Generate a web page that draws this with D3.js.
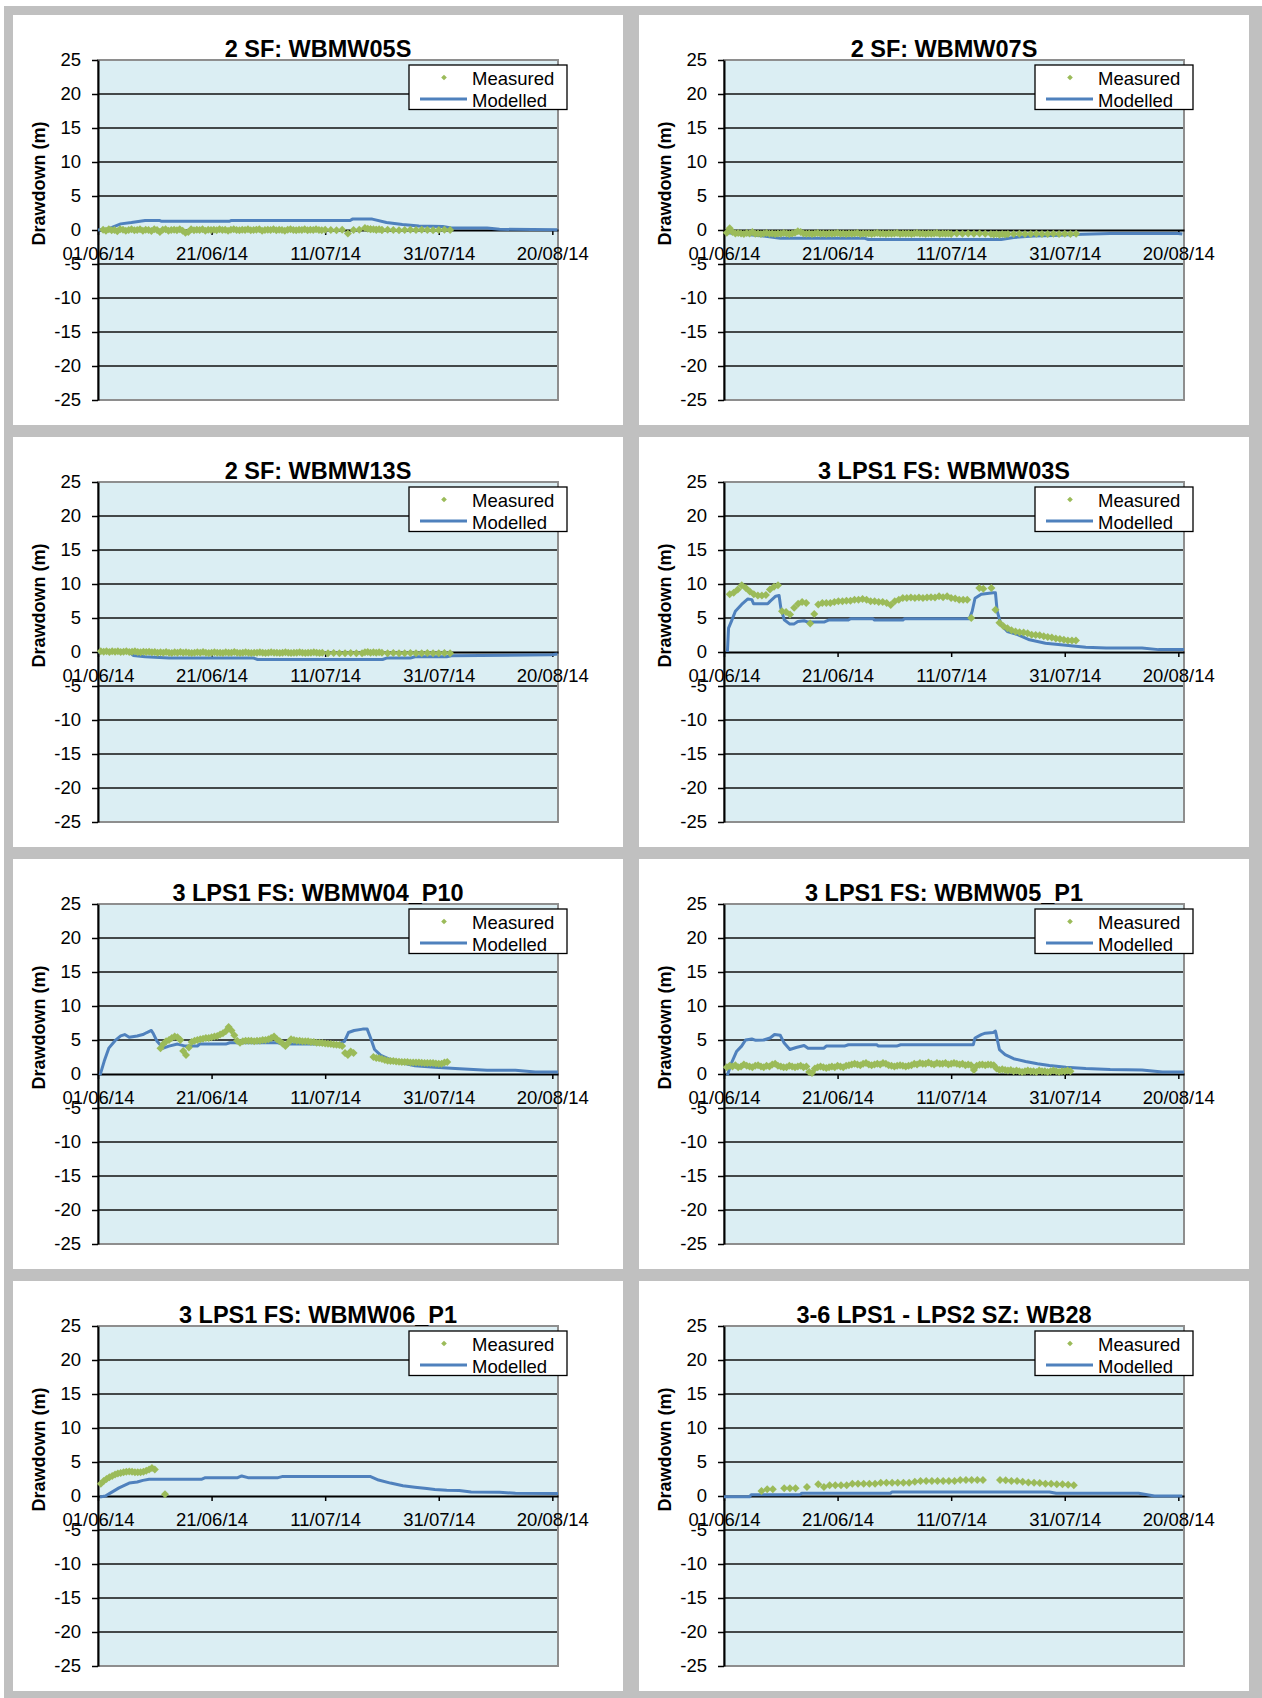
<!DOCTYPE html>
<html><head><meta charset="utf-8">
<script src="https://cdn.jsdelivr.net/npm/d3@7"></script>
<style>
body{margin:0;background:#fff}
svg{display:block}
text{font-family:"Liberation Sans",Arial,sans-serif;fill:#000}
</style>
</head><body>
<svg id="c" width="1262" height="1698"></svg>
<script>
// ---------------- DATA ----------------
const panelTitles = ["2 SF: WBMW05S","2 SF: WBMW07S","2 SF: WBMW13S","3 LPS1 FS: WBMW03S",
  "3 LPS1 FS: WBMW04_P10","3 LPS1 FS: WBMW05_P1","3 LPS1 FS: WBMW06_P1","3-6 LPS1 - LPS2 SZ: WB28"];
const xTickLabels = ["01/06/14","21/06/14","11/07/14","31/07/14","20/08/14"];
const xDomainLabels = ["01/06/14","21/08/14"];
const yTicks = [25,20,15,10,5,0,-5,-10,-15,-20,-25];
const yTitle = "Drawdown (m)";
const seriesNames = ["Measured","Modelled"];

// Modelled: [days since 01/06/14, drawdown m]
const modelledWBMW05S = [[0,0],[1.6,0.1],[4,0.9],[5.9,1.1],[8.3,1.4],[10.8,1.4],[11.1,1.3],[23.2,1.3],[23.5,1.4],[44.4,1.4],[44.8,1.6],[48.3,1.6],[50.8,1.1],[53.6,0.8],[56.5,0.6],[60.7,0.5],[62.2,0.3],[68.5,0.3],[70.7,0.1],[80.9,0.05]];
const modelledWBMW07S = [[0.6,-0.4],[3,-0.6],[7,-0.9],[9.9,-1.2],[24.7,-1.2],[25.4,-1.4],[48.8,-1.4],[51,-1.1],[54.5,-0.9],[58,-0.8],[61.6,-0.65],[68,-0.5],[80,-0.5],[80.7,-0.6]];
const modelledWBMW13S = [[0,0],[5.5,0],[6.2,-0.5],[8.3,-0.7],[12.5,-0.9],[27.4,-0.9],[28.1,-1.1],[50.1,-1.1],[50.8,-0.9],[55,-0.9],[55.8,-0.7],[61.4,-0.7],[62.2,-0.55],[79.9,-0.4],[80.9,-0.3]];
const modelledWBMW03S = [[0.6,0],[0.8,3.5],[1.3,4.5],[2,6.0],[3.1,7.0],[4.2,7.8],[4.9,7.7],[5.2,7.1],[7.7,7.1],[8.1,7.45],[9.1,8.2],[9.7,8.3],[10,6.5],[10.6,4.75],[11.6,4.1],[12.3,4.1],[13,4.5],[14.1,4.6],[14.8,4.4],[17.6,4.4],[18.4,4.7],[21.9,4.7],[22.3,4.9],[26.2,4.9],[26.5,4.7],[31.5,4.7],[31.8,4.9],[43.2,4.9],[43.7,6.0],[44.2,7.9],[45.3,8.5],[47.4,8.7],[47.8,8.7],[48.1,6.0],[48.8,4.0],[49.9,3.0],[51.7,2.55],[53.8,1.8],[56.6,1.3],[60.2,1.0],[63.7,0.7],[67.3,0.6],[73.6,0.6],[76.5,0.35],[81,0.35]];
const modelledWBMW04P10 = [[0.35,-0.2],[1.1,1.9],[1.9,3.8],[3.0,4.9],[4.0,5.6],[4.7,5.8],[5.5,5.4],[6.9,5.6],[7.9,5.8],[8.6,6.1],[9.4,6.4],[9.7,6.0],[10.4,4.8],[11.5,3.8],[12.5,4.1],[14,4.4],[15.4,4.1],[17.5,4.1],[17.9,4.4],[22.5,4.4],[23.2,4.6],[31.7,4.6],[32.4,4.4],[42.3,4.4],[43.4,4.8],[44.1,6.1],[45.1,6.4],[46.6,6.6],[47.4,6.6],[48,5.3],[48.7,3.6],[49.8,2.75],[51.5,2.1],[53.7,1.6],[55.8,1.2],[59.3,1.0],[62.9,0.8],[68.5,0.55],[73.5,0.55],[77,0.3],[81,0.3]];
const modelledWBMW05P1 = [[0.6,-0.2],[1.2,1.4],[2.2,3.3],[3.1,4.1],[3.8,5.0],[4.9,5.15],[5.6,4.95],[7,5.0],[8.1,5.3],[8.9,5.8],[9.9,5.7],[10.6,4.55],[11.6,3.6],[12.7,3.9],[14.1,4.2],[14.8,3.8],[17.6,3.8],[18,4.1],[21.2,4.1],[21.9,4.3],[26.9,4.3],[27.2,4.1],[30.4,4.1],[31.1,4.3],[43.9,4.3],[44.2,5.3],[45.3,5.8],[46,6.0],[47.4,6.1],[47.8,6.3],[48.5,3.6],[49.5,2.85],[51,2.25],[53.1,1.85],[55.2,1.5],[57.3,1.25],[60.2,1.0],[63.7,0.8],[68,0.65],[73.6,0.6],[77.2,0.3],[81,0.3]];
const modelledWBMW06P1 = [[0.35,-0.15],[1.3,0],[2.3,0.5],[3.7,1.2],[5.5,1.9],[6.9,2.05],[7.9,2.3],[9.0,2.45],[18.2,2.45],[18.9,2.7],[24.6,2.7],[25.3,2.95],[26.4,2.7],[31.7,2.7],[32.4,2.85],[48,2.85],[49.4,2.35],[51.5,1.9],[53.7,1.5],[55.8,1.3],[57.9,1.1],[59.3,0.95],[61.4,0.85],[63.6,0.8],[65.7,0.6],[70.7,0.55],[73.5,0.4],[81,0.35]];
const modelledWB28 = [[0,-0.1],[4.5,-0.1],[4.8,0.2],[13.4,0.2],[13.7,0.4],[29.3,0.4],[29.6,0.6],[57.3,0.6],[58.5,0.4],[73,0.4],[75.8,0],[80.7,0]];

// Measured: segments of readings {t0: first day, dt: interval in days, v: values (null = no reading)}
const measuredWBMW05S = [
  {t0:0.9, dt:0.5, v:[0.05,-0.1,0.1,-0.05,0.0,-0.2,0.1,0.05,-0.1,0.0,
    0.1,-0.05,0.0,0.1,-0.1,0.05,0.0,-0.15,0.1,0.0,
    -0.3,0.05,0.1,-0.1,0.0,0.05,-0.05,0.1,-0.1,-0.4,
    -0.3,0.1,-0.05,0.05,0.0,0.1,-0.1,0.05,0.0,0.05,
    -0.05,0.1,0.0,0.05,-0.1,0.05,0.1,0.0,-0.05,0.05,
    0.0,0.1,-0.05,0.0,0.05,0.1,-0.1,0.0,0.05,0.0,
    0.1,-0.05,0.05,0.0,-0.1,0.05,0.1,0.0,-0.05,0.05,
    0.0,0.1,-0.05,0.05,0.0,0.1,0.0,-0.05]},
  {t0:40, dt:1, v:[0.05,0.0,-0.05,0.05,-0.5,0.0,0.05,0.3,0.1,0.05,0.0,0.05,0.0,-0.05,0.0,0.05,0.0,0.05,0.0,-0.05,0.0,0.05,0.0]},
  {t0:47.5, dt:0.5, v:[0.2,0.1,0.1,0.05,0.1,0.0]}
];
const measuredWBMW07S = [
  {t0:0.5, dt:0.5, v:[-0.4,0.25,-0.3,-0.5,-0.45,-0.5,-0.6,-0.45,-0.5,-0.3,
    -0.55,-0.5,-0.6,-0.5,-0.45,-0.55,-0.5,-0.6,-0.5,-0.55,
    -0.45,-0.5,-0.6,-0.5,-0.4,-0.2,-0.3,-0.5,-0.55,-0.5,
    -0.6,-0.5,-0.45,-0.55,-0.5,-0.6,-0.5,-0.55,-0.5,-0.45,
    -0.55,-0.5,-0.6,-0.5,-0.55,-0.5,-0.45,-0.6,-0.5,-0.55,
    -0.5,-0.6,-0.5,-0.45,-0.55,-0.5,-0.6,-0.5,-0.55,-0.5,
    -0.45,-0.6,-0.5,-0.55,-0.5,-0.6,-0.5,-0.45,-0.55,-0.5,
    -0.6,-0.5,-0.55,-0.5,-0.45,-0.6,-0.5,-0.55,-0.5,-0.6]},
  {t0:41, dt:1, v:[-0.5,-0.55,-0.5,-0.55,-0.5,-0.55]},
  {t0:47, dt:0.5, v:[-0.6,-0.65,-0.6,-0.7,-0.6,-0.65,-0.6]},
  {t0:51, dt:1, v:[-0.6,-0.55,-0.6,-0.6,-0.55,-0.6,-0.6,-0.55,-0.6,-0.55,-0.6,-0.55]}
];
const measuredWBMW13S = [
  {t0:0.5, dt:0.5, v:[0.1,0.05,0.1,0.0,0.1,0.05,0.1,0.0,0.05,0.1,
    0.0,0.05,0.1,0.0,-0.05,0.05,0.0,0.05,-0.05,0.0,
    -0.1,-0.05,-0.1,0.0,-0.1,-0.15,-0.05,-0.1,0.0,-0.1,
    -0.05,-0.1,-0.15,-0.1,-0.05,-0.1,0.0,-0.1,-0.15,-0.1,
    -0.05,-0.1,-0.1,-0.15,-0.05,-0.1,-0.1,0.0,-0.1,-0.15,
    -0.1,-0.05,-0.1,-0.15,-0.1,-0.1,-0.05,-0.1,-0.15,-0.1,
    -0.05,-0.1,-0.1,-0.15,-0.1,-0.05,-0.1,-0.15,-0.1,-0.1,
    -0.05,-0.1,-0.15,-0.1,-0.1,-0.05,-0.1,-0.15,-0.1]},
  {t0:40.5, dt:1, v:[-0.2,-0.15,-0.2,-0.2,-0.15,-0.2,-0.2]},
  {t0:47, dt:0.5, v:[-0.05,0.0,-0.1,-0.05,-0.1,-0.05,-0.1]},
  {t0:51, dt:1, v:[-0.2,-0.15,-0.2,-0.2,-0.15,-0.2,-0.2,-0.15,-0.2,-0.2,-0.15,-0.2]}
];
const measuredWBMW03S = [
  {t0:1.0, dt:0.709, v:[8.5,8.7,9.2,9.8,9.4,8.9,8.5,8.3,8.3,8.4,9.2,9.6,9.8,6.0,5.9,5.5,6.5,7.1,7.35,7.2,
    4.2,5.6,7.0,7.2,7.2,7.2,7.35,7.45,7.45,7.55,7.55,7.7,7.7,7.8,7.7,7.45,7.45,7.35,7.35,7.2,
    6.9,7.45,7.7,7.95,7.95,8.0,7.95,8.0,7.95,8.0,8.05,8.0,8.2,8.05,8.2,7.95,7.85,7.7,7.7,7.7,
    5.0,null,9.4,9.3,null,9.4,6.2,4.3,3.8,3.5,3.2,3.0,2.9,2.85,2.75,2.55,2.5,2.45,2.3,2.2,
    2.15,2.0,1.9,1.8,1.7,1.7,1.7]}
];
const measuredWBMW04P10 = [
  {t0:11, dt:0.5, v:[3.8,4.4,4.8,5.0,5.3,5.5,5.4,5.0,3.4,2.8,3.9,4.7,4.9,5.0,5.1,5.2,5.3,5.3,5.4,5.5,
    5.6,5.8,6.0,6.3,6.9,6.4,5.7,4.9,4.6,4.8,4.9,4.9,4.9,4.8,4.9,4.9,5.0,5.0,5.1,5.3,
    5.5,5.1,4.8,4.5,4.1,4.6,5.1,5.0,4.9,4.9,4.8,4.8,4.8,4.7,4.7,4.6,4.6,4.55,4.5,4.45,
    4.4,4.35,4.3,4.25,4.1,3.1,2.8,3.3,3.1]},
  {t0:48.5, dt:0.5, v:[2.5,2.35,2.3,2.2,2.05,1.95,1.9,1.9,1.85,1.8,1.75,1.75,1.75,1.7,1.7,1.7,1.7,1.65,1.6,1.6,1.6,1.6,1.55,1.5,1.5,1.7,1.75]}
];
const measuredWBMW05P1 = [
  {t0:0.5, dt:0.5, v:[1.0,1.2,1.1,1.3,1.0,1.1,1.4,1.2,1.1,1.0,1.2,1.3,1.1,1.0,1.2,1.1,1.4,1.5,1.2,1.1,1.0,1.0,1.2,1.1,1.0,1.1,1.2,1.0,1.1,
    0.3,0.15,
    0.8,1.0,1.1,1.0,0.9,1.0,1.1,1.0,1.2,1.1,1.0,1.2,
    1.3,1.4,1.5,1.4,1.3,1.5,1.6,1.4,1.3,1.4,1.5,1.4,1.6,1.5,1.3,
    1.2,1.1,1.2,1.3,1.2,1.1,1.2,1.3,
    1.5,1.4,1.6,1.5,1.5,1.7,1.5,1.4,1.6,1.5,1.5,1.6,1.4,1.5,1.6,1.5,1.4,1.5,1.3,1.4,1.3,
    0.6,
    1.2,1.35,1.4,1.3,1.4,1.35,1.3,
    0.8,0.6,0.7,0.6,0.5,0.6,
    0.4,0.5,0.4,0.3,0.4,0.5,0.4,0.4,0.3,0.5,0.4,0.4,0.3,0.4,0.5,0.4,0.3,0.4,0.4,0.5,0.4]}
];
const measuredWBMW06P1 = [
  {t0:0.5, dt:0.5, v:[1.8,2.2,2.5,2.75,2.95,3.15,3.3,3.4,3.5,3.55,3.6,3.55,3.5,3.5,3.5,3.55,3.7,3.9,4.1,3.9]},
  {t0:11.8, dt:1, v:[0.25]}
];
const measuredWB28 = [
  {t0:6.6, dt:1, v:[0.74,0.98,0.98,null,1.13,1.13,1.13,null,1.32,null,1.72,1.32,1.57,1.57,1.57,1.57,1.81,1.81,1.81,1.81,
    1.81,1.96,1.96,1.96,1.96,1.96,1.96,2.1,2.2,2.2,2.2,2.2,2.2,2.2,2.2,2.35,2.35,2.35,2.35,2.35,
    null,null,2.35,2.3,2.2,2.2,2.1,2.0,1.96,1.9,1.81,1.81,1.72,1.72,1.67,1.57]}
];

const modelledSeries = [modelledWBMW05S,modelledWBMW07S,modelledWBMW13S,modelledWBMW03S,modelledWBMW04P10,modelledWBMW05P1,modelledWBMW06P1,modelledWB28];
const measuredSeries = [measuredWBMW05S,measuredWBMW07S,measuredWBMW13S,measuredWBMW03S,measuredWBMW04P10,measuredWBMW05P1,measuredWBMW06P1,measuredWB28];

// ---------------- DRAWING ----------------
const colMeasured = "#9bbb59", colModelled = "#4f81bd";
const svg = d3.select("#c");
svg.append("rect").attr("x",4).attr("y",6).attr("width",1258).attr("height",1692).attr("fill","#c0c0c0");

const colX = [13,639], rowY = [15,437,859,1281], PW = 610, PH = 410;
const M = {l:85, t:45, w:460, h:340};
const parse = d3.timeParse("%d/%m/%y");
const tStart = parse(xDomainLabels[0]), tEndD = parse(xDomainLabels[1]);
const x = d3.scaleTime().domain([tStart,tEndD]).range([0,M.w]);
const y = d3.scaleLinear().domain([d3.min(yTicks),d3.max(yTicks)]).range([M.h,0]);
const dayDate = d => new Date(tStart.getTime() + d*86400000);
const tickDates = xTickLabels.map(parse);
const fmt = d3.timeFormat("%d/%m/%y");

const line = d3.line().x(d=>x(dayDate(d[0]))).y(d=>y(d[1]));
const diamond = d3.symbol().type(d3.symbolSquare).size(32);
const diamondSmall = d3.symbol().type(d3.symbolSquare).size(16);

panelTitles.forEach((title,i)=>{
  const g = svg.append("g").attr("transform",`translate(${colX[i%2]},${rowY[Math.floor(i/2)]})`);
  g.append("rect").attr("width",PW).attr("height",PH).attr("fill","#fff");
  const p = g.append("g").attr("transform",`translate(${M.l},${M.t})`);
  p.append("rect").attr("width",M.w).attr("height",M.h).attr("fill","#dbeef3");
  // gridlines
  p.selectAll("line.grid").data(yTicks.filter(v=>v<d3.max(yTicks)&&v>d3.min(yTicks)&&v!==0)).join("line")
    .attr("class","grid").attr("x1",0).attr("x2",M.w).attr("y1",d=>y(d)).attr("y2",d=>y(d))
    .attr("stroke","#111").attr("stroke-width",1.6);
  // border
  p.append("rect").attr("width",M.w).attr("height",M.h).attr("fill","none").attr("stroke","#8e8e8e").attr("stroke-width",2);
  // x axis at 0
  const xa = p.append("g").attr("transform",`translate(0,${y(0)})`)
    .call(d3.axisBottom(x).tickValues(tickDates).tickFormat(fmt).tickSize(5).tickSizeOuter(0).tickPadding(12));
  xa.select(".domain").attr("stroke","#000").attr("stroke-width",2);
  xa.selectAll(".tick line").attr("stroke","#000").attr("stroke-width",1.5);
  xa.selectAll("text").style("font-size","18.5px").attr("fill","#000");
  // y axis
  const ya = p.append("g")
    .call(d3.axisLeft(y).tickValues(yTicks).tickFormat(d=>String(d)).tickSize(6).tickSizeOuter(0).tickPadding(11));
  ya.select(".domain").attr("stroke","#000").attr("stroke-width",2);
  ya.selectAll(".tick line").attr("stroke","#000").attr("stroke-width",1.5);
  ya.selectAll("text").style("font-size","18.5px").attr("fill","#000");
  // modelled
  p.append("path").datum(modelledSeries[i]).attr("d",line).attr("fill","none")
    .attr("stroke",colModelled).attr("stroke-width",3).attr("stroke-linejoin","round");
  // measured
  const pts = [];
  measuredSeries[i].forEach(seg=>seg.v.forEach((v,k)=>{ if(v!==null) pts.push([seg.t0+k*seg.dt, v]); }));
  p.selectAll("path.m").data(pts).join("path").attr("class","m")
    .attr("transform",d=>`translate(${x(dayDate(d[0]))},${y(d[1])}) rotate(45)`)
    .attr("d",diamond).attr("fill",colMeasured);
  // title
  g.append("text").attr("x",PW/2).attr("y",42).attr("text-anchor","middle")
    .style("font-size","23.5px").style("font-weight","bold").text(title);
  // y title
  g.append("text").attr("transform","translate(26,168.5) rotate(-90)").attr("dy","0.35em")
    .attr("text-anchor","middle").style("font-size","18px").style("font-weight","bold").text(yTitle);
  // legend
  const lg = g.append("g").attr("transform","translate(396,50)");
  lg.append("rect").attr("width",158).attr("height",44.5).attr("fill","#fff").attr("stroke","#000").attr("stroke-width",1.3);
  lg.append("path").attr("transform","translate(35,12.5) rotate(45)").attr("d",diamondSmall).attr("fill",colMeasured);
  lg.append("line").attr("x1",11).attr("x2",58).attr("y1",34).attr("y2",34).attr("stroke",colModelled).attr("stroke-width",3);
  lg.append("text").attr("x",63).attr("y",20).style("font-size","18.5px").text(seriesNames[0]);
  lg.append("text").attr("x",63).attr("y",41.5).style("font-size","18.5px").text(seriesNames[1]);
});
</script>
</body></html>
